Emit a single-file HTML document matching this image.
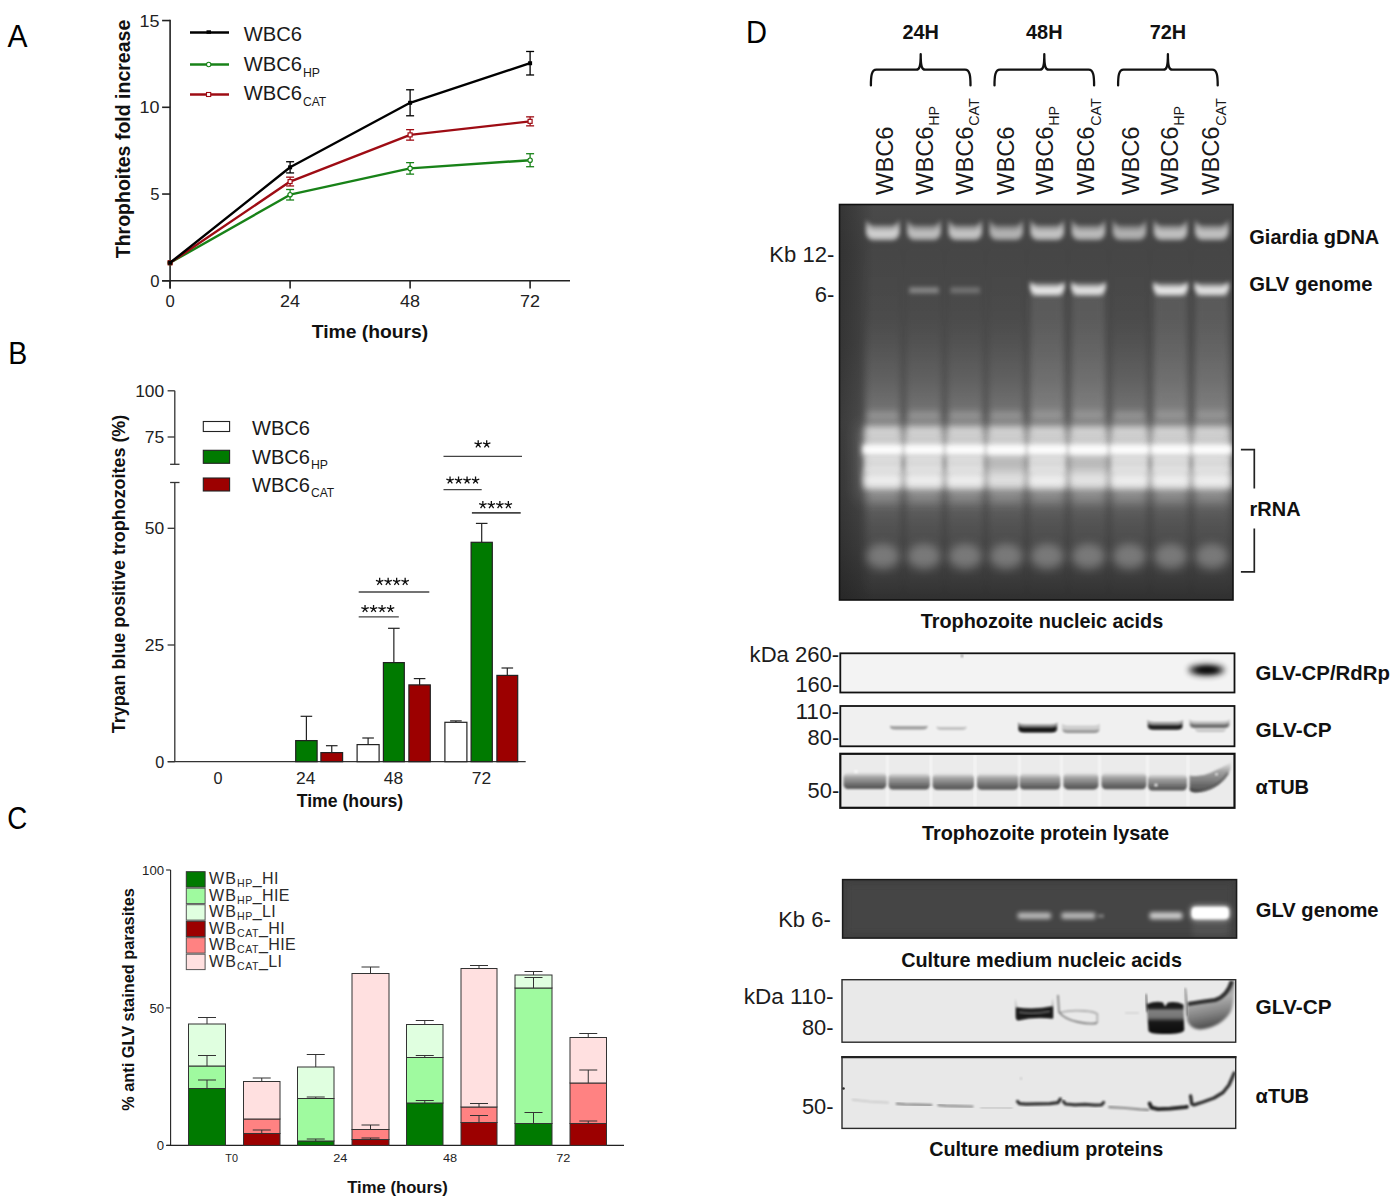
<!DOCTYPE html>
<html><head><meta charset="utf-8"><title>Figure</title>
<style>
html,body{margin:0;padding:0;background:#fff;}
body{width:1400px;height:1204px;overflow:hidden;font-family:"Liberation Sans",sans-serif;}
svg{display:block;font-family:"Liberation Sans",sans-serif;}
</style></head><body>
<svg width="1400" height="1204" viewBox="0 0 1400 1204">
<rect width="1400" height="1204" fill="#fff"/>
<defs>
<filter id="b07" x="-2%" y="-2%" width="104%" height="104%"><feGaussianBlur stdDeviation="0.8"/></filter>
<filter id="b1" x="-20%" y="-50%" width="140%" height="200%"><feGaussianBlur stdDeviation="1"/></filter>
<filter id="b15" x="-20%" y="-80%" width="140%" height="260%"><feGaussianBlur stdDeviation="1.5"/></filter>
<filter id="b2" x="-20%" y="-80%" width="140%" height="260%"><feGaussianBlur stdDeviation="2.2"/></filter>
<filter id="b3" x="-30%" y="-80%" width="160%" height="260%"><feGaussianBlur stdDeviation="3.2"/></filter>
<filter id="b5" x="-40%" y="-100%" width="180%" height="300%"><feGaussianBlur stdDeviation="5"/></filter>
<filter id="b8" x="-50%" y="-100%" width="200%" height="300%"><feGaussianBlur stdDeviation="8"/></filter>
<filter id="bx" x="-30%" y="-10%" width="160%" height="120%"><feGaussianBlur stdDeviation="3 6"/></filter>
<linearGradient id="gelbg" x1="0" y1="0" x2="0" y2="1">
 <stop offset="0" stop-color="#4a4a4a"/><stop offset="0.12" stop-color="#454545"/><stop offset="0.35" stop-color="#484848"/>
 <stop offset="0.55" stop-color="#545454"/><stop offset="0.72" stop-color="#4e4e4e"/><stop offset="0.88" stop-color="#404040"/><stop offset="1" stop-color="#303030"/>
</linearGradient>
<linearGradient id="smear" x1="0" y1="0" x2="0" y2="1">
 <stop offset="0" stop-color="#fff" stop-opacity="0"/><stop offset="0.22" stop-color="#fff" stop-opacity="0.02"/>
 <stop offset="0.4" stop-color="#fff" stop-opacity="0.11"/><stop offset="0.5" stop-color="#fff" stop-opacity="0.2"/><stop offset="0.62" stop-color="#fff" stop-opacity="0.3"/>
 <stop offset="0.72" stop-color="#fff" stop-opacity="0.14"/><stop offset="0.8" stop-color="#fff" stop-opacity="0.07"/><stop offset="0.9" stop-color="#fff" stop-opacity="0.04"/>
 <stop offset="1" stop-color="#fff" stop-opacity="0"/>
</linearGradient>
<linearGradient id="lmar" x1="0" y1="0" x2="1" y2="0"><stop offset="0" stop-color="#1c1c1c" stop-opacity="0.45"/><stop offset="0.5" stop-color="#1c1c1c" stop-opacity="0.25"/><stop offset="1" stop-color="#1c1c1c" stop-opacity="0"/></linearGradient>
<linearGradient id="bandg" x1="0" y1="0" x2="0" y2="1"><stop offset="0" stop-color="#777" stop-opacity="0.05"/><stop offset="0.3" stop-color="#707070" stop-opacity="0.6"/><stop offset="0.75" stop-color="#5a5a5a" stop-opacity="0.9"/><stop offset="1" stop-color="#484848" stop-opacity="0.95"/></linearGradient>
<linearGradient id="l8g" x1="0" y1="0" x2="0" y2="1"><stop offset="0" stop-color="#000" stop-opacity="0.9"/><stop offset="0.34" stop-color="#000" stop-opacity="0.88"/><stop offset="0.42" stop-color="#000" stop-opacity="0.45"/><stop offset="0.58" stop-color="#000" stop-opacity="0.5"/><stop offset="0.7" stop-color="#000" stop-opacity="0.9"/><stop offset="1" stop-color="#000" stop-opacity="0.95"/></linearGradient>
<linearGradient id="l9g" x1="0.3" y1="0" x2="0.5" y2="1"><stop offset="0" stop-color="#000" stop-opacity="0.5"/><stop offset="0.4" stop-color="#000" stop-opacity="0.25"/><stop offset="0.7" stop-color="#000" stop-opacity="0.45"/><stop offset="1" stop-color="#000" stop-opacity="0.7"/></linearGradient>
<clipPath id="cgel"><rect x="839.5" y="204.5" width="393.5" height="395.5"/></clipPath>
<clipPath id="cgel2"><rect x="842.6" y="879.6" width="394" height="58.5"/></clipPath>
<clipPath id="cb1"><rect x="840.5" y="653.5" width="394" height="39"/></clipPath>
<clipPath id="cb2"><rect x="840.5" y="706" width="394" height="40"/></clipPath>
<clipPath id="cb3"><rect x="840.5" y="753.4" width="394" height="54"/></clipPath>
<clipPath id="cb4"><rect x="842" y="979.7" width="393.7" height="62.5"/></clipPath>
<clipPath id="cb5"><rect x="842" y="1056.8" width="393.7" height="71.6"/></clipPath>
</defs>
<text x="920.7" y="38.8" font-size="19.5" text-anchor="middle" font-weight="bold" fill="#111" textLength="36.5" lengthAdjust="spacingAndGlyphs" >24H</text>
<path d="M870.9,85.4 C870.9,76 871.5,69.7 876.4,69.7 L916.2,69.7 C919.5,69.7 920.7,66.5 920.7,54.2 C920.7,66.5 921.9,69.7 925.2,69.7 L965.0,69.7 C969.9,69.7 970.5,76 970.5,85.4" fill="none" stroke="#111" stroke-width="2.3" stroke-linecap="round" stroke-linejoin="round"/>
<text x="1044.3" y="38.8" font-size="19.5" text-anchor="middle" font-weight="bold" fill="#111" textLength="36.5" lengthAdjust="spacingAndGlyphs" >48H</text>
<path d="M994.5,85.4 C994.5,76 995.1,69.7 1000.0,69.7 L1039.8,69.7 C1043.1,69.7 1044.3,66.5 1044.3,54.2 C1044.3,66.5 1045.5,69.7 1048.8,69.7 L1088.6,69.7 C1093.5,69.7 1094.1,76 1094.1,85.4" fill="none" stroke="#111" stroke-width="2.3" stroke-linecap="round" stroke-linejoin="round"/>
<text x="1167.9" y="38.8" font-size="19.5" text-anchor="middle" font-weight="bold" fill="#111" textLength="36.5" lengthAdjust="spacingAndGlyphs" >72H</text>
<path d="M1118.1,85.4 C1118.1,76 1118.7,69.7 1123.6,69.7 L1163.4,69.7 C1166.7,69.7 1167.9,66.5 1167.9,54.2 C1167.9,66.5 1169.1,69.7 1172.4,69.7 L1212.2,69.7 C1217.1,69.7 1217.7,76 1217.7,85.4" fill="none" stroke="#111" stroke-width="2.3" stroke-linecap="round" stroke-linejoin="round"/>
<text transform="translate(893,195) rotate(-90)" font-size="24.2" fill="#1a1a1a"><tspan textLength="68.5" lengthAdjust="spacingAndGlyphs">WBC6</tspan></text>
<text transform="translate(932.5,195) rotate(-90)" font-size="24.2" fill="#1a1a1a"><tspan textLength="68.5" lengthAdjust="spacingAndGlyphs">WBC6</tspan><tspan font-size="14.3" dy="6.3" dx="0.8">HP</tspan></text>
<text transform="translate(972.5,195) rotate(-90)" font-size="24.2" fill="#1a1a1a"><tspan textLength="68.5" lengthAdjust="spacingAndGlyphs">WBC6</tspan><tspan font-size="14.3" dy="6.3" dx="0.8">CAT</tspan></text>
<text transform="translate(1013.6,195) rotate(-90)" font-size="24.2" fill="#1a1a1a"><tspan textLength="68.5" lengthAdjust="spacingAndGlyphs">WBC6</tspan></text>
<text transform="translate(1053,195) rotate(-90)" font-size="24.2" fill="#1a1a1a"><tspan textLength="68.5" lengthAdjust="spacingAndGlyphs">WBC6</tspan><tspan font-size="14.3" dy="6.3" dx="0.8">HP</tspan></text>
<text transform="translate(1094.2,195) rotate(-90)" font-size="24.2" fill="#1a1a1a"><tspan textLength="68.5" lengthAdjust="spacingAndGlyphs">WBC6</tspan><tspan font-size="14.3" dy="6.3" dx="0.8">CAT</tspan></text>
<text transform="translate(1138.6,195) rotate(-90)" font-size="24.2" fill="#1a1a1a"><tspan textLength="68.5" lengthAdjust="spacingAndGlyphs">WBC6</tspan></text>
<text transform="translate(1178,195) rotate(-90)" font-size="24.2" fill="#1a1a1a"><tspan textLength="68.5" lengthAdjust="spacingAndGlyphs">WBC6</tspan><tspan font-size="14.3" dy="6.3" dx="0.8">HP</tspan></text>
<text transform="translate(1219.3,195) rotate(-90)" font-size="24.2" fill="#1a1a1a"><tspan textLength="68.5" lengthAdjust="spacingAndGlyphs">WBC6</tspan><tspan font-size="14.3" dy="6.3" dx="0.8">CAT</tspan></text>
<rect x="839.50" y="204.50" width="393.50" height="395.50" fill="url(#gelbg)" stroke="none" stroke-width="1" />
<g clip-path="url(#cgel)"><g>
<rect x="839.50" y="204.50" width="34.00" height="395.50" fill="url(#lmar)" stroke="none" stroke-width="1" />
<rect x="857.50" y="425.00" width="375.50" height="75.00" fill="#fff" stroke="none" stroke-width="1" opacity="0.14" filter="url(#b8)"/>
<rect x="864.00" y="430.00" width="367.00" height="56.00" fill="#fff" stroke="none" stroke-width="1" opacity="0.3" filter="url(#b5)"/>
<rect x="862.00" y="445.00" width="370.00" height="9.00" fill="#fff" stroke="none" stroke-width="1" opacity="0.4" filter="url(#b3)"/>
<rect x="865.05" y="238.00" width="35.50" height="357.00" fill="url(#smear)" stroke="none" stroke-width="1" filter="url(#b3)"/>
<path d="M866.0,219.5 Q869.0,225.5 875.0,225.5 L890.5,225.5 Q896.5,225.5 899.5,219.5 L899.5,234 Q897.5,240.5 892.5,240.5 L873.0,240.5 Q868.0,240.5 866.0,234 Z" fill="#fff" opacity="0.48" filter="url(#b2)"/>
<path d="M867.0,224 Q869.0,230 875.0,230 L890.5,230 Q896.5,230 898.5,224 L898.5,233 Q896.5,238 891.5,238 L874.0,238 Q869.0,238 867.0,233 Z" fill="#fff" opacity="0.50" filter="url(#b2)"/>
<rect x="867.05" y="411.00" width="31.50" height="9.00" fill="#fff" stroke="none" stroke-width="1" opacity="0.2" filter="url(#b3)"/>
<rect x="865.05" y="426.00" width="35.50" height="11.00" fill="#fff" stroke="none" stroke-width="1" opacity="0.5" filter="url(#b3)"/>
<rect x="865.05" y="436.00" width="35.50" height="9.00" fill="#fff" stroke="none" stroke-width="1" opacity="0.22" filter="url(#b2)"/>
<rect x="863.55" y="443.50" width="38.50" height="12.00" fill="#fff" stroke="none" stroke-width="1" opacity="0.6" filter="url(#b3)"/>
<rect x="864.05" y="446.00" width="37.50" height="7.50" fill="#fff" stroke="none" stroke-width="1" opacity="0.9" filter="url(#b2)"/>
<rect x="864.55" y="456.00" width="36.50" height="16.00" fill="#fff" stroke="none" stroke-width="1" opacity="0.50" filter="url(#b2)"/>
<rect x="864.05" y="469.00" width="37.50" height="20.00" fill="#fff" stroke="none" stroke-width="1" opacity="0.50" filter="url(#b3)"/>
<rect x="864.55" y="475.00" width="36.50" height="11.50" fill="#fff" stroke="none" stroke-width="1" opacity="0.60" filter="url(#b3)"/>
<rect x="867.05" y="487.00" width="31.50" height="16.00" fill="#fff" stroke="none" stroke-width="1" opacity="0.16" filter="url(#b5)"/>
<ellipse cx="882.8" cy="556.5" rx="16.5" ry="12.5" fill="#fff" opacity="0.27" filter="url(#b5)"/>
<rect x="906.25" y="238.00" width="35.50" height="357.00" fill="url(#smear)" stroke="none" stroke-width="1" filter="url(#b3)"/>
<path d="M907.2,219.5 Q910.2,225.5 916.2,225.5 L931.8,225.5 Q937.8,225.5 940.8,219.5 L940.8,234 Q938.8,240.5 933.8,240.5 L914.2,240.5 Q909.2,240.5 907.2,234 Z" fill="#fff" opacity="0.39" filter="url(#b2)"/>
<path d="M908.2,224 Q910.2,230 916.2,230 L931.8,230 Q937.8,230 939.8,224 L939.8,233 Q937.8,238 932.8,238 L915.2,238 Q910.2,238 908.2,233 Z" fill="#fff" opacity="0.41" filter="url(#b2)"/>
<rect x="909.25" y="287.30" width="29.50" height="6.00" fill="#fff" stroke="none" stroke-width="1" opacity="0.34" filter="url(#b2)"/>
<rect x="908.25" y="411.00" width="31.50" height="9.00" fill="#fff" stroke="none" stroke-width="1" opacity="0.2" filter="url(#b3)"/>
<rect x="906.25" y="426.00" width="35.50" height="11.00" fill="#fff" stroke="none" stroke-width="1" opacity="0.5" filter="url(#b3)"/>
<rect x="906.25" y="436.00" width="35.50" height="9.00" fill="#fff" stroke="none" stroke-width="1" opacity="0.22" filter="url(#b2)"/>
<rect x="904.75" y="443.50" width="38.50" height="12.00" fill="#fff" stroke="none" stroke-width="1" opacity="0.6" filter="url(#b3)"/>
<rect x="905.25" y="446.00" width="37.50" height="7.50" fill="#fff" stroke="none" stroke-width="1" opacity="0.9" filter="url(#b2)"/>
<rect x="905.75" y="456.00" width="36.50" height="16.00" fill="#fff" stroke="none" stroke-width="1" opacity="0.50" filter="url(#b2)"/>
<rect x="905.25" y="469.00" width="37.50" height="20.00" fill="#fff" stroke="none" stroke-width="1" opacity="0.50" filter="url(#b3)"/>
<rect x="905.75" y="475.00" width="36.50" height="11.50" fill="#fff" stroke="none" stroke-width="1" opacity="0.60" filter="url(#b3)"/>
<rect x="908.25" y="487.00" width="31.50" height="16.00" fill="#fff" stroke="none" stroke-width="1" opacity="0.16" filter="url(#b5)"/>
<ellipse cx="924.0" cy="556.5" rx="16.5" ry="12.5" fill="#fff" opacity="0.27" filter="url(#b5)"/>
<rect x="947.45" y="238.00" width="35.50" height="357.00" fill="url(#smear)" stroke="none" stroke-width="1" filter="url(#b3)"/>
<path d="M948.5,219.5 Q951.5,225.5 957.5,225.5 L973.0,225.5 Q979.0,225.5 982.0,219.5 L982.0,234 Q980.0,240.5 975.0,240.5 L955.5,240.5 Q950.5,240.5 948.5,234 Z" fill="#fff" opacity="0.42" filter="url(#b2)"/>
<path d="M949.5,224 Q951.5,230 957.5,230 L973.0,230 Q979.0,230 981.0,224 L981.0,233 Q979.0,238 974.0,238 L956.5,238 Q951.5,238 949.5,233 Z" fill="#fff" opacity="0.44" filter="url(#b2)"/>
<rect x="950.45" y="287.30" width="29.50" height="6.00" fill="#fff" stroke="none" stroke-width="1" opacity="0.23" filter="url(#b2)"/>
<rect x="949.45" y="411.00" width="31.50" height="9.00" fill="#fff" stroke="none" stroke-width="1" opacity="0.2" filter="url(#b3)"/>
<rect x="947.45" y="426.00" width="35.50" height="11.00" fill="#fff" stroke="none" stroke-width="1" opacity="0.5" filter="url(#b3)"/>
<rect x="947.45" y="436.00" width="35.50" height="9.00" fill="#fff" stroke="none" stroke-width="1" opacity="0.22" filter="url(#b2)"/>
<rect x="945.95" y="443.50" width="38.50" height="12.00" fill="#fff" stroke="none" stroke-width="1" opacity="0.6" filter="url(#b3)"/>
<rect x="946.45" y="446.00" width="37.50" height="7.50" fill="#fff" stroke="none" stroke-width="1" opacity="0.9" filter="url(#b2)"/>
<rect x="946.95" y="456.00" width="36.50" height="16.00" fill="#fff" stroke="none" stroke-width="1" opacity="0.50" filter="url(#b2)"/>
<rect x="946.45" y="469.00" width="37.50" height="20.00" fill="#fff" stroke="none" stroke-width="1" opacity="0.50" filter="url(#b3)"/>
<rect x="946.95" y="475.00" width="36.50" height="11.50" fill="#fff" stroke="none" stroke-width="1" opacity="0.60" filter="url(#b3)"/>
<rect x="949.45" y="487.00" width="31.50" height="16.00" fill="#fff" stroke="none" stroke-width="1" opacity="0.16" filter="url(#b5)"/>
<ellipse cx="965.2" cy="556.5" rx="16.5" ry="12.5" fill="#fff" opacity="0.27" filter="url(#b5)"/>
<rect x="988.45" y="238.00" width="35.50" height="357.00" fill="url(#smear)" stroke="none" stroke-width="1" filter="url(#b3)"/>
<path d="M989.5,219.5 Q992.5,225.5 998.5,225.5 L1014.0,225.5 Q1020.0,225.5 1023.0,219.5 L1023.0,234 Q1021.0,240.5 1016.0,240.5 L996.5,240.5 Q991.5,240.5 989.5,234 Z" fill="#fff" opacity="0.35" filter="url(#b2)"/>
<path d="M990.5,224 Q992.5,230 998.5,230 L1014.0,230 Q1020.0,230 1022.0,224 L1022.0,233 Q1020.0,238 1015.0,238 L997.5,238 Q992.5,238 990.5,233 Z" fill="#fff" opacity="0.36" filter="url(#b2)"/>
<rect x="990.45" y="411.00" width="31.50" height="9.00" fill="#fff" stroke="none" stroke-width="1" opacity="0.2" filter="url(#b3)"/>
<rect x="988.45" y="426.00" width="35.50" height="11.00" fill="#fff" stroke="none" stroke-width="1" opacity="0.5" filter="url(#b3)"/>
<rect x="988.45" y="436.00" width="35.50" height="9.00" fill="#fff" stroke="none" stroke-width="1" opacity="0.22" filter="url(#b2)"/>
<rect x="986.95" y="443.50" width="38.50" height="12.00" fill="#fff" stroke="none" stroke-width="1" opacity="0.6" filter="url(#b3)"/>
<rect x="987.45" y="446.00" width="37.50" height="7.50" fill="#fff" stroke="none" stroke-width="1" opacity="0.9" filter="url(#b2)"/>
<rect x="987.95" y="456.00" width="36.50" height="16.00" fill="#fff" stroke="none" stroke-width="1" opacity="0.08" filter="url(#b2)"/>
<rect x="987.45" y="469.00" width="37.50" height="20.00" fill="#fff" stroke="none" stroke-width="1" opacity="0.36" filter="url(#b3)"/>
<rect x="987.95" y="475.00" width="36.50" height="11.50" fill="#fff" stroke="none" stroke-width="1" opacity="0.43" filter="url(#b3)"/>
<rect x="990.45" y="487.00" width="31.50" height="16.00" fill="#fff" stroke="none" stroke-width="1" opacity="0.16" filter="url(#b5)"/>
<ellipse cx="1006.2" cy="556.5" rx="16.5" ry="12.5" fill="#fff" opacity="0.27" filter="url(#b5)"/>
<rect x="1029.45" y="238.00" width="35.50" height="357.00" fill="url(#smear)" stroke="none" stroke-width="1" filter="url(#b3)"/>
<rect x="1030.45" y="294.00" width="33.50" height="120.00" fill="#fff" stroke="none" stroke-width="1" opacity="0.09" filter="url(#b3)"/>
<path d="M1030.5,219.5 Q1033.5,225.5 1039.5,225.5 L1055.0,225.5 Q1061.0,225.5 1064.0,219.5 L1064.0,234 Q1062.0,240.5 1057.0,240.5 L1037.5,240.5 Q1032.5,240.5 1030.5,234 Z" fill="#fff" opacity="0.42" filter="url(#b2)"/>
<path d="M1031.5,224 Q1033.5,230 1039.5,230 L1055.0,230 Q1061.0,230 1063.0,224 L1063.0,233 Q1061.0,238 1056.0,238 L1038.5,238 Q1033.5,238 1031.5,233 Z" fill="#fff" opacity="0.44" filter="url(#b2)"/>
<path d="M1030.0,280.5 Q1032.5,286.5 1038.5,286.5 L1056.0,286.5 Q1062.0,286.5 1064.5,280.5 L1064.5,289 Q1062.0,294.5 1057.0,294.5 L1037.5,294.5 Q1032.5,294.5 1030.0,289 Z" fill="#fff" opacity="0.78" filter="url(#b2)"/>
<rect x="1031.45" y="283.00" width="31.50" height="13.00" fill="#fff" stroke="none" stroke-width="1" opacity="0.35" filter="url(#b2)"/>
<rect x="1031.45" y="411.00" width="31.50" height="9.00" fill="#fff" stroke="none" stroke-width="1" opacity="0.2" filter="url(#b3)"/>
<rect x="1029.45" y="426.00" width="35.50" height="11.00" fill="#fff" stroke="none" stroke-width="1" opacity="0.5" filter="url(#b3)"/>
<rect x="1029.45" y="436.00" width="35.50" height="9.00" fill="#fff" stroke="none" stroke-width="1" opacity="0.22" filter="url(#b2)"/>
<rect x="1027.95" y="443.50" width="38.50" height="12.00" fill="#fff" stroke="none" stroke-width="1" opacity="0.6" filter="url(#b3)"/>
<rect x="1028.45" y="446.00" width="37.50" height="7.50" fill="#fff" stroke="none" stroke-width="1" opacity="0.9" filter="url(#b2)"/>
<rect x="1028.95" y="456.00" width="36.50" height="16.00" fill="#fff" stroke="none" stroke-width="1" opacity="0.50" filter="url(#b2)"/>
<rect x="1028.45" y="469.00" width="37.50" height="20.00" fill="#fff" stroke="none" stroke-width="1" opacity="0.50" filter="url(#b3)"/>
<rect x="1028.95" y="475.00" width="36.50" height="11.50" fill="#fff" stroke="none" stroke-width="1" opacity="0.60" filter="url(#b3)"/>
<rect x="1031.45" y="487.00" width="31.50" height="16.00" fill="#fff" stroke="none" stroke-width="1" opacity="0.16" filter="url(#b5)"/>
<ellipse cx="1047.2" cy="556.5" rx="16.5" ry="12.5" fill="#fff" opacity="0.27" filter="url(#b5)"/>
<rect x="1070.65" y="238.00" width="35.50" height="357.00" fill="url(#smear)" stroke="none" stroke-width="1" filter="url(#b3)"/>
<rect x="1071.65" y="294.00" width="33.50" height="120.00" fill="#fff" stroke="none" stroke-width="1" opacity="0.09" filter="url(#b3)"/>
<path d="M1071.7,219.5 Q1074.7,225.5 1080.7,225.5 L1096.2,225.5 Q1102.2,225.5 1105.2,219.5 L1105.2,234 Q1103.2,240.5 1098.2,240.5 L1078.7,240.5 Q1073.7,240.5 1071.7,234 Z" fill="#fff" opacity="0.38" filter="url(#b2)"/>
<path d="M1072.7,224 Q1074.7,230 1080.7,230 L1096.2,230 Q1102.2,230 1104.2,224 L1104.2,233 Q1102.2,238 1097.2,238 L1079.7,238 Q1074.7,238 1072.7,233 Z" fill="#fff" opacity="0.40" filter="url(#b2)"/>
<path d="M1071.2,280.5 Q1073.7,286.5 1079.7,286.5 L1097.2,286.5 Q1103.2,286.5 1105.7,280.5 L1105.7,289 Q1103.2,294.5 1098.2,294.5 L1078.7,294.5 Q1073.7,294.5 1071.2,289 Z" fill="#fff" opacity="0.74" filter="url(#b2)"/>
<rect x="1072.65" y="283.00" width="31.50" height="13.00" fill="#fff" stroke="none" stroke-width="1" opacity="0.33" filter="url(#b2)"/>
<rect x="1072.65" y="411.00" width="31.50" height="9.00" fill="#fff" stroke="none" stroke-width="1" opacity="0.2" filter="url(#b3)"/>
<rect x="1070.65" y="426.00" width="35.50" height="11.00" fill="#fff" stroke="none" stroke-width="1" opacity="0.5" filter="url(#b3)"/>
<rect x="1070.65" y="436.00" width="35.50" height="9.00" fill="#fff" stroke="none" stroke-width="1" opacity="0.22" filter="url(#b2)"/>
<rect x="1069.15" y="443.50" width="38.50" height="12.00" fill="#fff" stroke="none" stroke-width="1" opacity="0.6" filter="url(#b3)"/>
<rect x="1069.65" y="446.00" width="37.50" height="7.50" fill="#fff" stroke="none" stroke-width="1" opacity="0.9" filter="url(#b2)"/>
<rect x="1070.15" y="456.00" width="36.50" height="16.00" fill="#fff" stroke="none" stroke-width="1" opacity="0.08" filter="url(#b2)"/>
<rect x="1069.65" y="469.00" width="37.50" height="20.00" fill="#fff" stroke="none" stroke-width="1" opacity="0.39" filter="url(#b3)"/>
<rect x="1070.15" y="475.00" width="36.50" height="11.50" fill="#fff" stroke="none" stroke-width="1" opacity="0.47" filter="url(#b3)"/>
<rect x="1072.65" y="487.00" width="31.50" height="16.00" fill="#fff" stroke="none" stroke-width="1" opacity="0.16" filter="url(#b5)"/>
<ellipse cx="1088.4" cy="556.5" rx="16.5" ry="12.5" fill="#fff" opacity="0.27" filter="url(#b5)"/>
<rect x="1111.65" y="238.00" width="35.50" height="357.00" fill="url(#smear)" stroke="none" stroke-width="1" filter="url(#b3)"/>
<path d="M1112.7,219.5 Q1115.7,225.5 1121.7,225.5 L1137.2,225.5 Q1143.2,225.5 1146.2,219.5 L1146.2,234 Q1144.2,240.5 1139.2,240.5 L1119.7,240.5 Q1114.7,240.5 1112.7,234 Z" fill="#fff" opacity="0.34" filter="url(#b2)"/>
<path d="M1113.7,224 Q1115.7,230 1121.7,230 L1137.2,230 Q1143.2,230 1145.2,224 L1145.2,233 Q1143.2,238 1138.2,238 L1120.7,238 Q1115.7,238 1113.7,233 Z" fill="#fff" opacity="0.35" filter="url(#b2)"/>
<rect x="1113.65" y="411.00" width="31.50" height="9.00" fill="#fff" stroke="none" stroke-width="1" opacity="0.2" filter="url(#b3)"/>
<rect x="1111.65" y="426.00" width="35.50" height="11.00" fill="#fff" stroke="none" stroke-width="1" opacity="0.5" filter="url(#b3)"/>
<rect x="1111.65" y="436.00" width="35.50" height="9.00" fill="#fff" stroke="none" stroke-width="1" opacity="0.22" filter="url(#b2)"/>
<rect x="1110.15" y="443.50" width="38.50" height="12.00" fill="#fff" stroke="none" stroke-width="1" opacity="0.6" filter="url(#b3)"/>
<rect x="1110.65" y="446.00" width="37.50" height="7.50" fill="#fff" stroke="none" stroke-width="1" opacity="0.9" filter="url(#b2)"/>
<rect x="1111.15" y="456.00" width="36.50" height="16.00" fill="#fff" stroke="none" stroke-width="1" opacity="0.50" filter="url(#b2)"/>
<rect x="1110.65" y="469.00" width="37.50" height="20.00" fill="#fff" stroke="none" stroke-width="1" opacity="0.50" filter="url(#b3)"/>
<rect x="1111.15" y="475.00" width="36.50" height="11.50" fill="#fff" stroke="none" stroke-width="1" opacity="0.60" filter="url(#b3)"/>
<rect x="1113.65" y="487.00" width="31.50" height="16.00" fill="#fff" stroke="none" stroke-width="1" opacity="0.16" filter="url(#b5)"/>
<ellipse cx="1129.4" cy="556.5" rx="16.5" ry="12.5" fill="#fff" opacity="0.27" filter="url(#b5)"/>
<rect x="1152.85" y="238.00" width="35.50" height="357.00" fill="url(#smear)" stroke="none" stroke-width="1" filter="url(#b3)"/>
<rect x="1153.85" y="294.00" width="33.50" height="120.00" fill="#fff" stroke="none" stroke-width="1" opacity="0.09" filter="url(#b3)"/>
<path d="M1153.8,219.5 Q1156.8,225.5 1162.8,225.5 L1178.3,225.5 Q1184.3,225.5 1187.3,219.5 L1187.3,234 Q1185.3,240.5 1180.3,240.5 L1160.8,240.5 Q1155.8,240.5 1153.8,234 Z" fill="#fff" opacity="0.41" filter="url(#b2)"/>
<path d="M1154.8,224 Q1156.8,230 1162.8,230 L1178.3,230 Q1184.3,230 1186.3,224 L1186.3,233 Q1184.3,238 1179.3,238 L1161.8,238 Q1156.8,238 1154.8,233 Z" fill="#fff" opacity="0.42" filter="url(#b2)"/>
<path d="M1153.3,280.5 Q1155.8,286.5 1161.8,286.5 L1179.3,286.5 Q1185.3,286.5 1187.8,280.5 L1187.8,289 Q1185.3,294.5 1180.3,294.5 L1160.8,294.5 Q1155.8,294.5 1153.3,289 Z" fill="#fff" opacity="0.78" filter="url(#b2)"/>
<rect x="1154.85" y="283.00" width="31.50" height="13.00" fill="#fff" stroke="none" stroke-width="1" opacity="0.35" filter="url(#b2)"/>
<rect x="1154.85" y="411.00" width="31.50" height="9.00" fill="#fff" stroke="none" stroke-width="1" opacity="0.2" filter="url(#b3)"/>
<rect x="1152.85" y="426.00" width="35.50" height="11.00" fill="#fff" stroke="none" stroke-width="1" opacity="0.5" filter="url(#b3)"/>
<rect x="1152.85" y="436.00" width="35.50" height="9.00" fill="#fff" stroke="none" stroke-width="1" opacity="0.22" filter="url(#b2)"/>
<rect x="1151.35" y="443.50" width="38.50" height="12.00" fill="#fff" stroke="none" stroke-width="1" opacity="0.6" filter="url(#b3)"/>
<rect x="1151.85" y="446.00" width="37.50" height="7.50" fill="#fff" stroke="none" stroke-width="1" opacity="0.9" filter="url(#b2)"/>
<rect x="1152.35" y="456.00" width="36.50" height="16.00" fill="#fff" stroke="none" stroke-width="1" opacity="0.50" filter="url(#b2)"/>
<rect x="1151.85" y="469.00" width="37.50" height="20.00" fill="#fff" stroke="none" stroke-width="1" opacity="0.50" filter="url(#b3)"/>
<rect x="1152.35" y="475.00" width="36.50" height="11.50" fill="#fff" stroke="none" stroke-width="1" opacity="0.60" filter="url(#b3)"/>
<rect x="1154.85" y="487.00" width="31.50" height="16.00" fill="#fff" stroke="none" stroke-width="1" opacity="0.16" filter="url(#b5)"/>
<ellipse cx="1170.6" cy="556.5" rx="16.5" ry="12.5" fill="#fff" opacity="0.27" filter="url(#b5)"/>
<rect x="1194.05" y="238.00" width="35.50" height="357.00" fill="url(#smear)" stroke="none" stroke-width="1" filter="url(#b3)"/>
<rect x="1195.05" y="294.00" width="33.50" height="120.00" fill="#fff" stroke="none" stroke-width="1" opacity="0.09" filter="url(#b3)"/>
<path d="M1195.0,219.5 Q1198.0,225.5 1204.0,225.5 L1219.5,225.5 Q1225.5,225.5 1228.5,219.5 L1228.5,234 Q1226.5,240.5 1221.5,240.5 L1202.0,240.5 Q1197.0,240.5 1195.0,234 Z" fill="#fff" opacity="0.41" filter="url(#b2)"/>
<path d="M1196.0,224 Q1198.0,230 1204.0,230 L1219.5,230 Q1225.5,230 1227.5,224 L1227.5,233 Q1225.5,238 1220.5,238 L1203.0,238 Q1198.0,238 1196.0,233 Z" fill="#fff" opacity="0.42" filter="url(#b2)"/>
<path d="M1194.5,280.5 Q1197.0,286.5 1203.0,286.5 L1220.5,286.5 Q1226.5,286.5 1229.0,280.5 L1229.0,289 Q1226.5,294.5 1221.5,294.5 L1202.0,294.5 Q1197.0,294.5 1194.5,289 Z" fill="#fff" opacity="0.74" filter="url(#b2)"/>
<rect x="1196.05" y="283.00" width="31.50" height="13.00" fill="#fff" stroke="none" stroke-width="1" opacity="0.33" filter="url(#b2)"/>
<rect x="1196.05" y="411.00" width="31.50" height="9.00" fill="#fff" stroke="none" stroke-width="1" opacity="0.2" filter="url(#b3)"/>
<rect x="1194.05" y="426.00" width="35.50" height="11.00" fill="#fff" stroke="none" stroke-width="1" opacity="0.5" filter="url(#b3)"/>
<rect x="1194.05" y="436.00" width="35.50" height="9.00" fill="#fff" stroke="none" stroke-width="1" opacity="0.22" filter="url(#b2)"/>
<rect x="1192.55" y="443.50" width="38.50" height="12.00" fill="#fff" stroke="none" stroke-width="1" opacity="0.6" filter="url(#b3)"/>
<rect x="1193.05" y="446.00" width="37.50" height="7.50" fill="#fff" stroke="none" stroke-width="1" opacity="0.9" filter="url(#b2)"/>
<rect x="1193.55" y="456.00" width="36.50" height="16.00" fill="#fff" stroke="none" stroke-width="1" opacity="0.50" filter="url(#b2)"/>
<rect x="1193.05" y="469.00" width="37.50" height="20.00" fill="#fff" stroke="none" stroke-width="1" opacity="0.50" filter="url(#b3)"/>
<rect x="1193.55" y="475.00" width="36.50" height="11.50" fill="#fff" stroke="none" stroke-width="1" opacity="0.60" filter="url(#b3)"/>
<rect x="1196.05" y="487.00" width="31.50" height="16.00" fill="#fff" stroke="none" stroke-width="1" opacity="0.16" filter="url(#b5)"/>
<ellipse cx="1211.8" cy="556.5" rx="16.5" ry="12.5" fill="#fff" opacity="0.27" filter="url(#b5)"/>
</g></g>
<rect x="839.50" y="204.50" width="393.50" height="395.50" fill="none" stroke="#111" stroke-width="1.6" />
<text x="1249.3" y="243.6" font-size="19.8" text-anchor="start" font-weight="bold" fill="#111" textLength="130" lengthAdjust="spacingAndGlyphs" >Giardia gDNA</text>
<text x="1249.3" y="291.3" font-size="19.8" text-anchor="start" font-weight="bold" fill="#111" textLength="123.2" lengthAdjust="spacingAndGlyphs" >GLV genome</text>
<text x="1249.6" y="516.3" font-size="19.8" text-anchor="start" font-weight="bold" fill="#111" textLength="51" lengthAdjust="spacingAndGlyphs" >rRNA</text>
<text x="834.3" y="262.1" font-size="21.4" text-anchor="end" font-weight="normal" fill="#1c1c1c" textLength="65" lengthAdjust="spacingAndGlyphs" >Kb 12-</text>
<text x="834.3" y="302.4" font-size="21.4" text-anchor="end" font-weight="normal" fill="#1c1c1c" textLength="19.6" lengthAdjust="spacingAndGlyphs" >6-</text>
<path d="M1240.9,449.7 L1254.3,449.7 L1254.3,488.6" fill="none" stroke="#222" stroke-width="1.7"/>
<path d="M1254.3,528.6 L1254.3,571.8 L1240.9,571.8" fill="none" stroke="#222" stroke-width="1.7"/>
<text x="1042" y="627.9" font-size="19.8" text-anchor="middle" font-weight="bold" fill="#111" textLength="242.6" lengthAdjust="spacingAndGlyphs" >Trophozoite nucleic acids</text>
<text x="1045.5" y="839.6" font-size="19.8" text-anchor="middle" font-weight="bold" fill="#111" textLength="247" lengthAdjust="spacingAndGlyphs" >Trophozoite protein lysate</text>
<text x="1041.6" y="967.2" font-size="19.8" text-anchor="middle" font-weight="bold" fill="#111" textLength="280.8" lengthAdjust="spacingAndGlyphs" >Culture medium nucleic acids</text>
<text x="1046.2" y="1156.1" font-size="19.8" text-anchor="middle" font-weight="bold" fill="#111" textLength="234" lengthAdjust="spacingAndGlyphs" >Culture medium proteins</text>
<rect x="840.30" y="653.30" width="394.20" height="39.20" fill="#f3f3f3" stroke="none" stroke-width="1" />
<g clip-path="url(#cb1)">
<ellipse cx="1206.5" cy="670" rx="18" ry="5.5" fill="#000" opacity="0.85" filter="url(#b3)"/>
<ellipse cx="1207" cy="670" rx="11" ry="3" fill="#000" opacity="0.85" filter="url(#b2)"/>
<circle cx="962" cy="656" r="1.2" fill="#777" filter="url(#b1)"/>
</g>
<rect x="840.30" y="653.30" width="394.20" height="39.20" fill="none" stroke="#111" stroke-width="1.8" />
<rect x="840.30" y="706.00" width="394.20" height="40.30" fill="#f0f0f0" stroke="none" stroke-width="1" />
<g clip-path="url(#cb2)">
<path d="M890.0,725.8 Q891.5,726.3 897.0,726.3 L920.5,726.3 Q926.0,726.3 927.5,725.8 L927.5,727.1 Q926.5,729.6 922.5,729.6 L895.0,729.6 Q891.0,729.6 890.0,727.1 Z" fill="#000" opacity="0.36" filter="url(#b1)"/>
<path d="M936.5,726.5 Q938.0,727.0 943.5,727.0 L959.5,727.0 Q965.0,727.0 966.5,726.5 L966.5,727.5 Q965.5,730.0 961.5,730.0 L941.5,730.0 Q937.5,730.0 936.5,727.5 Z" fill="#000" opacity="0.2" filter="url(#b1)"/>
<path d="M1018.0,722.3 Q1019.5,724.5 1025.0,724.5 L1050.4,724.5 Q1055.9,724.5 1057.4,722.3 L1057.4,729.9 Q1056.4,732.4 1052.4,732.4 L1023.0,732.4 Q1019.0,732.4 1018.0,729.9 Z" fill="#000" opacity="0.42" filter="url(#b1)"/>
<path d="M1019.0,726.1 Q1020.5,727.6 1026.0,727.6 L1049.4,727.6 Q1054.9,727.6 1056.4,726.1 L1056.4,729.7 Q1055.4,732.2 1051.4,732.2 L1024.0,732.2 Q1020.0,732.2 1019.0,729.7 Z" fill="#000" opacity="0.85" filter="url(#b1)"/>
<path d="M1062.0,723.5 Q1063.5,725.5 1069.0,725.5 L1092.8,725.5 Q1098.3,725.5 1099.8,723.5 L1099.8,730.5 Q1098.8,733.0 1094.8,733.0 L1067.0,733.0 Q1063.0,733.0 1062.0,730.5 Z" fill="#000" opacity="0.14" filter="url(#b1)"/>
<path d="M1063.0,729.2 Q1064.5,730.2 1070.0,730.2 L1091.8,730.2 Q1097.3,730.2 1098.8,729.2 L1098.8,730.5 Q1097.8,733.0 1093.8,733.0 L1068.0,733.0 Q1064.0,733.0 1063.0,730.5 Z" fill="#000" opacity="0.28" filter="url(#b1)"/>
<path d="M1147.4,719.8 Q1148.9,722.0 1154.4,722.0 L1176.0,722.0 Q1181.5,722.0 1183.0,719.8 L1183.0,727.3 Q1182.0,729.8 1178.0,729.8 L1152.4,729.8 Q1148.4,729.8 1147.4,727.3 Z" fill="#000" opacity="0.36" filter="url(#b1)"/>
<path d="M1148.4,723.8 Q1149.9,725.3 1155.4,725.3 L1175.0,725.3 Q1180.5,725.3 1182.0,723.8 L1182.0,727.1 Q1181.0,729.6 1177.0,729.6 L1153.4,729.6 Q1149.4,729.6 1148.4,727.1 Z" fill="#000" opacity="0.82" filter="url(#b1)"/>
<path d="M1189.4,719.3 Q1190.9,721.5 1196.4,721.5 L1222.7,721.5 Q1228.2,721.5 1229.7,719.3 L1229.7,725.7 Q1228.7,728.2 1224.7,728.2 L1194.4,728.2 Q1190.4,728.2 1189.4,725.7 Z" fill="#000" opacity="0.22" filter="url(#b1)"/>
<path d="M1190.4,723.1 Q1191.9,724.6 1197.4,724.6 L1221.7,724.6 Q1227.2,724.6 1228.7,723.1 L1228.7,725.3 Q1227.7,727.8 1223.7,727.8 L1195.4,727.8 Q1191.4,727.8 1190.4,725.3 Z" fill="#000" opacity="0.45" filter="url(#b1)"/>
<path d="M1195.0,729.0 Q1196.5,729.5 1202.0,729.5 L1219.0,729.5 Q1224.5,729.5 1226.0,729.0 L1226.0,729.5 Q1225.0,732.0 1221.0,732.0 L1200.0,732.0 Q1196.0,732.0 1195.0,729.5 Z" fill="#000" opacity="0.2" filter="url(#b1)"/>
</g>
<rect x="840.30" y="706.00" width="394.20" height="40.30" fill="none" stroke="#111" stroke-width="1.8" />
<rect x="840.30" y="753.80" width="394.20" height="54.00" fill="#ebebeb" stroke="none" stroke-width="1" />
<g clip-path="url(#cb3)">
<rect x="886.1" y="755" width="2.6" height="52" fill="#fff" opacity="0.55" filter="url(#b1)"/>
<rect x="843.5" y="772.6" width="42.9" height="16.4" rx="4.5" fill="url(#bandg)" filter="url(#b1)"/>
<rect x="929.6" y="755" width="2.6" height="52" fill="#fff" opacity="0.55" filter="url(#b1)"/>
<rect x="888.5" y="773.2" width="41.4" height="16.4" rx="4.5" fill="url(#bandg)" filter="url(#b1)"/>
<rect x="973.7" y="755" width="2.6" height="52" fill="#fff" opacity="0.55" filter="url(#b1)"/>
<rect x="932.6" y="773.4" width="41.4" height="16.4" rx="4.5" fill="url(#bandg)" filter="url(#b1)"/>
<rect x="1018.1" y="755" width="2.6" height="52" fill="#fff" opacity="0.55" filter="url(#b1)"/>
<rect x="977.0" y="773.4" width="41.4" height="16.4" rx="4.5" fill="url(#bandg)" filter="url(#b1)"/>
<rect x="1060.1" y="755" width="2.6" height="52" fill="#fff" opacity="0.55" filter="url(#b1)"/>
<rect x="1019.6" y="773.2" width="40.8" height="16.4" rx="4.5" fill="url(#bandg)" filter="url(#b1)"/>
<rect x="1098.2" y="755" width="2.6" height="52" fill="#fff" opacity="0.55" filter="url(#b1)"/>
<rect x="1063.4" y="773.0" width="35.1" height="16.4" rx="4.5" fill="url(#bandg)" filter="url(#b1)"/>
<rect x="1146.2" y="755" width="2.6" height="52" fill="#fff" opacity="0.55" filter="url(#b1)"/>
<rect x="1101.5" y="772.8" width="45.0" height="16.4" rx="4.5" fill="url(#bandg)" filter="url(#b1)"/>
<rect x="1186.7" y="755" width="2.6" height="52" fill="#fff" opacity="0.55" filter="url(#b1)"/>
<rect x="1148.0" y="774.2" width="39.0" height="16.4" rx="4.5" fill="url(#bandg)" filter="url(#b1)"/>
<path d="M1189.6,775.5 Q1200,777.5 1210,773 Q1222,767.5 1230.8,762.5 Q1232,768 1227,776 Q1217,790 1196,792.5 Q1190,792.5 1189.6,789 Z" fill="url(#bandg)" filter="url(#b1)"/>
<path d="M1190,789 Q1196,792.3 1205,790.3 Q1219,786.5 1228,773" fill="none" stroke="#333" stroke-width="2" opacity="0.45" filter="url(#b1)"/>
<circle cx="856" cy="771.5" r="1.5" fill="#fff" opacity="0.9" filter="url(#b1)"/>
<circle cx="1156" cy="785" r="1.6" fill="#fff" opacity="0.95" filter="url(#b1)"/>
<circle cx="1216.5" cy="774.3" r="1.2" fill="#fff" opacity="0.9" filter="url(#b1)"/>
</g>
<rect x="840.30" y="753.80" width="394.20" height="54.00" fill="none" stroke="#111" stroke-width="2.2" />
<text x="839.2" y="661.7" font-size="21.4" text-anchor="end" font-weight="normal" fill="#1c1c1c" textLength="89.6" lengthAdjust="spacingAndGlyphs" >kDa 260-</text>
<text x="839.2" y="692.3" font-size="21.4" text-anchor="end" font-weight="normal" fill="#1c1c1c" textLength="43.8" lengthAdjust="spacingAndGlyphs" >160-</text>
<text x="839.2" y="719" font-size="21.4" text-anchor="end" font-weight="normal" fill="#1c1c1c" textLength="43.8" lengthAdjust="spacingAndGlyphs" >110-</text>
<text x="839.2" y="745.4" font-size="21.4" text-anchor="end" font-weight="normal" fill="#1c1c1c" textLength="31.6" lengthAdjust="spacingAndGlyphs" >80-</text>
<text x="839.2" y="798.2" font-size="21.4" text-anchor="end" font-weight="normal" fill="#1c1c1c" textLength="31.6" lengthAdjust="spacingAndGlyphs" >50-</text>
<text x="1255.6" y="680.1" font-size="19.8" text-anchor="start" font-weight="bold" fill="#111" textLength="134.3" lengthAdjust="spacingAndGlyphs" >GLV-CP/RdRp</text>
<text x="1255.6" y="737.2" font-size="19.8" text-anchor="start" font-weight="bold" fill="#111" textLength="76" lengthAdjust="spacingAndGlyphs" >GLV-CP</text>
<text x="1255.6" y="793.7" font-size="19.8" text-anchor="start" font-weight="bold" fill="#111" textLength="53.5" lengthAdjust="spacingAndGlyphs" >αTUB</text>
<rect x="842.60" y="879.60" width="394.00" height="58.50" fill="#3f3f3f" stroke="none" stroke-width="1" />
<g clip-path="url(#cgel2)">
<rect x="846.00" y="884.00" width="387.00" height="50.00" fill="#454545" stroke="none" stroke-width="1" filter="url(#b3)"/>
<rect x="1017.6" y="912.4" width="33.4" height="6.5" rx="2" fill="#fff" opacity="0.62" filter="url(#b2)"/>
<rect x="1061.4" y="912.4" width="34.0" height="6.5" rx="2" fill="#fff" opacity="0.62" filter="url(#b2)"/>
<rect x="1149.6" y="912.3" width="32.8" height="7" rx="2" fill="#fff" opacity="0.72" filter="url(#b2)"/>
<rect x="1190.5" y="906" width="39.5" height="14" rx="5" fill="#fff" opacity="0.55" filter="url(#b3)"/>
<rect x="1191.5" y="906.8" width="37.5" height="12.4" rx="4" fill="#fff" opacity="1" filter="url(#b15)"/>
<rect x="1193" y="909" width="34" height="8" rx="3" fill="#fff" opacity="1" filter="url(#b1)"/>
<rect x="1192" y="905" width="37" height="32" fill="#fff" opacity="0.08" filter="url(#b3)"/>
<rect x="1098" y="914" width="6" height="4" fill="#fff" opacity="0.25" filter="url(#b15)"/>
</g>
<rect x="842.60" y="879.60" width="394.00" height="58.50" fill="none" stroke="#1a1a1a" stroke-width="1.5" />
<text x="830.8" y="927.2" font-size="21.4" text-anchor="end" font-weight="normal" fill="#1c1c1c" textLength="52.6" lengthAdjust="spacingAndGlyphs" >Kb 6-</text>
<text x="1255.8" y="916.5" font-size="19.8" text-anchor="start" font-weight="bold" fill="#111" textLength="122.8" lengthAdjust="spacingAndGlyphs" >GLV genome</text>
<rect x="842.00" y="979.70" width="393.70" height="62.50" fill="#e9e9e9" stroke="none" stroke-width="1" />
<g clip-path="url(#cb4)">
<path d="M1015.6,998 L1016.6,1007.5 Q1034,1010 1052,1006 L1053,998 L1053.2,1018.5 Q1034,1016.5 1018,1020.5 Q1015.8,1020 1015.6,1016 Z" fill="#000" opacity="0.4" filter="url(#b1)"/>
<path d="M1016,1007.5 Q1034,1010.5 1053,1006.5 L1053,1018.5 Q1034,1016.5 1018,1020.3 Q1016,1020 1016,1016 Z" fill="#000" opacity="0.82" filter="url(#b1)"/>
<path d="M1019,1012.2 Q1034,1014.5 1050,1011.2" fill="none" stroke="#fff" stroke-width="2" opacity="0.28" filter="url(#b1)"/>
<path d="M1058,995 L1059,1012 Q1064,1019 1078,1022 Q1090,1024.5 1097,1023" fill="none" stroke="#000" stroke-width="1.8" opacity="0.42" filter="url(#b1)"/>
<path d="M1060,1012.5 Q1070,1010 1085,1011 Q1094,1011.5 1097.3,1014 L1097.3,1023" fill="none" stroke="#000" stroke-width="1.8" opacity="0.25" filter="url(#b1)"/>
<path d="M1145.9,994 L1147,1004 Q1156,1000.5 1163,1002.5 L1165,1006.5 L1168,1002.5 Q1176,1001 1183.5,1004.5 L1184.3,1030 Q1183,1034 1166,1034 Q1150,1034.5 1148.5,1031 Z" fill="url(#l8g)" filter="url(#b1)"/>
<path d="M1146,994 L1147.2,1012" fill="none" stroke="#000" stroke-width="1.6" opacity="0.5" filter="url(#b1)"/>
<path d="M1185,988 L1187.5,1003.5 Q1203,1001 1215,999.5 Q1227,996 1231.5,981 L1234,981 Q1235,1000 1231,1011 Q1222,1027 1200,1029.5 Q1190,1029 1187,1020 Z" fill="url(#l9g)" filter="url(#b15)"/>
<path d="M1188,1004 Q1203,1001.5 1215,1000 Q1227,996.5 1231.8,981" fill="none" stroke="#000" stroke-width="4" opacity="0.75" filter="url(#b1)"/>
<path d="M1185.2,988 L1187.5,1016" fill="none" stroke="#000" stroke-width="1.6" opacity="0.38" filter="url(#b1)"/>
<rect x="1125" y="1012.3" width="14" height="1.4" fill="#000" opacity="0.1" filter="url(#b1)"/>
</g>
<rect x="842.00" y="979.70" width="393.70" height="62.50" fill="none" stroke="#2a2a2a" stroke-width="1.4" />
<rect x="842.00" y="1056.80" width="393.70" height="71.60" fill="#e8e8e8" stroke="none" stroke-width="1" />
<g clip-path="url(#cb5)">
<path d="M852.4,1099.6 L870,1101.6 L888.2,1102.6" fill="none" stroke="#000" stroke-width="1.6" stroke-linejoin="round" stroke-linecap="round" opacity="0.13" filter="url(#b1)"/>
<path d="M896.9,1103.6 L905,1104.4 L931.3,1105.2" fill="none" stroke="#000" stroke-width="2.4" stroke-linejoin="round" stroke-linecap="round" opacity="0.42" filter="url(#b1)"/>
<path d="M938.5,1105 L946,1105.8 L972.4,1106.6" fill="none" stroke="#000" stroke-width="2.4" stroke-linejoin="round" stroke-linecap="round" opacity="0.38" filter="url(#b1)"/>
<path d="M981,1107.4 L1011.7,1108.1" fill="none" stroke="#000" stroke-width="2.0" stroke-linejoin="round" stroke-linecap="round" opacity="0.17" filter="url(#b1)"/>
<path d="M1017.6,1101.5 L1019.5,1103.6 L1026,1104.2 L1050,1103.6 L1058,1102.6 L1060.4,1099" fill="none" stroke="#000" stroke-width="3.2" stroke-linejoin="round" stroke-linecap="round" opacity="0.8" filter="url(#b1)"/>
<path d="M1063.4,1101.5 L1065.5,1104 L1075,1104.8 L1085,1104.4 L1095,1105.2 L1101.5,1104.8 L1103.6,1102.5" fill="none" stroke="#000" stroke-width="3.2" stroke-linejoin="round" stroke-linecap="round" opacity="0.78" filter="url(#b1)"/>
<path d="M1109.3,1107.2 L1125,1108 L1140,1109.4 L1148.1,1109.9" fill="none" stroke="#000" stroke-width="2.2" stroke-linejoin="round" stroke-linecap="round" opacity="0.42" filter="url(#b1)"/>
<path d="M1149.6,1103.5 L1151.5,1107.6 L1158,1109.2 L1170,1108.6 L1185,1107.2 L1186.9,1106.8" fill="none" stroke="#000" stroke-width="3.8" stroke-linejoin="round" stroke-linecap="round" opacity="0.85" filter="url(#b1)"/>
<path d="M1190.6,1096 L1191.8,1104 L1194,1104.8 L1203,1102 L1214,1098 L1223,1092.5 L1229,1085 L1234.3,1073" fill="none" stroke="#000" stroke-width="3.4" stroke-linejoin="round" stroke-linecap="round" opacity="0.8" filter="url(#b1)"/>
<circle cx="843.5" cy="1088.5" r="1.3" fill="#000" opacity="0.8"/>
<circle cx="1021" cy="1078.5" r="0.8" fill="#000" opacity="0.35" filter="url(#b1)"/>
</g>
<rect x="842.00" y="1056.80" width="393.70" height="71.60" fill="none" stroke="#2a2a2a" stroke-width="1.4" />
<line x1="841.3" y1="1057.2" x2="1236.4" y2="1057.2" stroke="#222" stroke-width="2.2" />
<text x="833.5" y="1003.5" font-size="21.4" text-anchor="end" font-weight="normal" fill="#1c1c1c" textLength="89.8" lengthAdjust="spacingAndGlyphs" >kDa 110-</text>
<text x="833.5" y="1035" font-size="21.4" text-anchor="end" font-weight="normal" fill="#1c1c1c" textLength="31.6" lengthAdjust="spacingAndGlyphs" >80-</text>
<text x="833.5" y="1114.2" font-size="21.4" text-anchor="end" font-weight="normal" fill="#1c1c1c" textLength="31.6" lengthAdjust="spacingAndGlyphs" >50-</text>
<text x="1255.6" y="1013.5" font-size="19.8" text-anchor="start" font-weight="bold" fill="#111" textLength="76" lengthAdjust="spacingAndGlyphs" >GLV-CP</text>
<text x="1255.6" y="1102.8" font-size="19.8" text-anchor="start" font-weight="bold" fill="#111" textLength="53.5" lengthAdjust="spacingAndGlyphs" >αTUB</text>
<text x="7.5" y="47" font-size="32" text-anchor="start" font-weight="normal" fill="#000" textLength="20" lengthAdjust="spacingAndGlyphs" >A</text>
<text x="8.2" y="363.8" font-size="32" text-anchor="start" font-weight="normal" fill="#000" textLength="19" lengthAdjust="spacingAndGlyphs" >B</text>
<text x="7.2" y="829.4" font-size="32" text-anchor="start" font-weight="normal" fill="#000" textLength="20" lengthAdjust="spacingAndGlyphs" >C</text>
<text x="746" y="42.7" font-size="32" text-anchor="start" font-weight="normal" fill="#000" textLength="21" lengthAdjust="spacingAndGlyphs" >D</text>
<line x1="170.1" y1="19.75000000000001" x2="170.1" y2="288.6" stroke="#222" stroke-width="1.6" />
<line x1="162.1" y1="280.8" x2="570" y2="280.8" stroke="#222" stroke-width="1.6" />
<line x1="162.1" y1="280.8" x2="170.1" y2="280.8" stroke="#222" stroke-width="1.6" />
<text x="159.5" y="286.8" font-size="16.7" text-anchor="end" font-weight="normal" fill="#222" >0</text>
<line x1="162.1" y1="194.05" x2="170.1" y2="194.05" stroke="#222" stroke-width="1.6" />
<text x="159.5" y="200.05" font-size="16.7" text-anchor="end" font-weight="normal" fill="#222" >5</text>
<line x1="162.1" y1="107.30000000000001" x2="170.1" y2="107.30000000000001" stroke="#222" stroke-width="1.6" />
<text x="159.5" y="113.30000000000001" font-size="16.7" text-anchor="end" font-weight="normal" fill="#222" textLength="20" lengthAdjust="spacingAndGlyphs" >10</text>
<line x1="162.1" y1="20.55000000000001" x2="170.1" y2="20.55000000000001" stroke="#222" stroke-width="1.6" />
<text x="159.5" y="26.55000000000001" font-size="16.7" text-anchor="end" font-weight="normal" fill="#222" textLength="20" lengthAdjust="spacingAndGlyphs" >15</text>
<line x1="170.1" y1="280.8" x2="170.1" y2="288.6" stroke="#222" stroke-width="1.6" />
<text x="170.1" y="307.2" font-size="16.7" text-anchor="middle" font-weight="normal" fill="#222" >0</text>
<line x1="290.1" y1="280.8" x2="290.1" y2="288.6" stroke="#222" stroke-width="1.6" />
<text x="290.1" y="307.2" font-size="16.7" text-anchor="middle" font-weight="normal" fill="#222" textLength="20" lengthAdjust="spacingAndGlyphs" >24</text>
<line x1="410.1" y1="280.8" x2="410.1" y2="288.6" stroke="#222" stroke-width="1.6" />
<text x="410.1" y="307.2" font-size="16.7" text-anchor="middle" font-weight="normal" fill="#222" textLength="20" lengthAdjust="spacingAndGlyphs" >48</text>
<line x1="530.1" y1="280.8" x2="530.1" y2="288.6" stroke="#222" stroke-width="1.6" />
<text x="530.1" y="307.2" font-size="16.7" text-anchor="middle" font-weight="normal" fill="#222" textLength="20" lengthAdjust="spacingAndGlyphs" >72</text>
<text x="370" y="337.5" font-size="19" text-anchor="middle" font-weight="bold" fill="#111" textLength="116.5" lengthAdjust="spacingAndGlyphs" >Time (hours)</text>
<text transform="translate(129.5,139) rotate(-90)" font-size="19.5" font-weight="bold" text-anchor="middle" fill="#111" textLength="238.5" lengthAdjust="spacingAndGlyphs">Throphoites fold increase</text>
<polyline points="170.1,262.8 290.1,194.7 410.1,168.4 530.1,160.2" fill="none" stroke="#188218" stroke-width="2.4" stroke-linejoin="round"/>
<circle cx="170.1" cy="262.8" r="2.2" fill="#fff" stroke="#188218" stroke-width="1.2"/>
<line x1="290.1" y1="189.494" x2="290.1" y2="199.994" stroke="#188218" stroke-width="1.3" />
<line x1="286.1" y1="189.494" x2="294.1" y2="189.494" stroke="#188218" stroke-width="1.3" />
<line x1="286.1" y1="199.994" x2="294.1" y2="199.994" stroke="#188218" stroke-width="1.3" />
<circle cx="290.1" cy="194.7" r="2.2" fill="#fff" stroke="#188218" stroke-width="1.2"/>
<line x1="410.1" y1="162.622" x2="410.1" y2="174.122" stroke="#188218" stroke-width="1.3" />
<line x1="406.1" y1="162.622" x2="414.1" y2="162.622" stroke="#188218" stroke-width="1.3" />
<line x1="406.1" y1="174.122" x2="414.1" y2="174.122" stroke="#188218" stroke-width="1.3" />
<circle cx="410.1" cy="168.4" r="2.2" fill="#fff" stroke="#188218" stroke-width="1.2"/>
<line x1="530.1" y1="153.7175" x2="530.1" y2="166.7175" stroke="#188218" stroke-width="1.3" />
<line x1="526.1" y1="153.7175" x2="534.1" y2="153.7175" stroke="#188218" stroke-width="1.3" />
<line x1="526.1" y1="166.7175" x2="534.1" y2="166.7175" stroke="#188218" stroke-width="1.3" />
<circle cx="530.1" cy="160.2" r="2.2" fill="#fff" stroke="#188218" stroke-width="1.2"/>
<polyline points="170.1,262.8 290.1,181.6 410.1,134.9 530.1,121.4" fill="none" stroke="#9e0c14" stroke-width="2.4" stroke-linejoin="round"/>
<rect x="168.10" y="260.76" width="4.00" height="4.00" fill="#fff" stroke="#9e0c14" stroke-width="1.2" />
<line x1="290.1" y1="177.158" x2="290.1" y2="185.958" stroke="#9e0c14" stroke-width="1.3" />
<line x1="286.1" y1="177.158" x2="294.1" y2="177.158" stroke="#9e0c14" stroke-width="1.3" />
<line x1="286.1" y1="185.958" x2="294.1" y2="185.958" stroke="#9e0c14" stroke-width="1.3" />
<rect x="288.10" y="179.56" width="4.00" height="4.00" fill="#fff" stroke="#9e0c14" stroke-width="1.2" />
<line x1="410.1" y1="129.63649999999998" x2="410.1" y2="140.13649999999998" stroke="#9e0c14" stroke-width="1.3" />
<line x1="406.1" y1="129.63649999999998" x2="414.1" y2="129.63649999999998" stroke="#9e0c14" stroke-width="1.3" />
<line x1="406.1" y1="140.13649999999998" x2="414.1" y2="140.13649999999998" stroke="#9e0c14" stroke-width="1.3" />
<rect x="408.10" y="132.89" width="4.00" height="4.00" fill="#fff" stroke="#9e0c14" stroke-width="1.2" />
<line x1="530.1" y1="116.8535" x2="530.1" y2="125.8535" stroke="#9e0c14" stroke-width="1.3" />
<line x1="526.1" y1="116.8535" x2="534.1" y2="116.8535" stroke="#9e0c14" stroke-width="1.3" />
<line x1="526.1" y1="125.8535" x2="534.1" y2="125.8535" stroke="#9e0c14" stroke-width="1.3" />
<rect x="528.10" y="119.35" width="4.00" height="4.00" fill="#fff" stroke="#9e0c14" stroke-width="1.2" />
<polyline points="170.1,262.8 290.1,167.3 410.1,102.8 530.1,63.2" fill="none" stroke="#000" stroke-width="2.4" stroke-linejoin="round"/>
<rect x="168.10" y="260.76" width="4.00" height="4.00" fill="#000" stroke="none" stroke-width="1" />
<line x1="290.1" y1="161.73100000000002" x2="290.1" y2="172.931" stroke="#000" stroke-width="1.3" />
<line x1="286.1" y1="161.73100000000002" x2="294.1" y2="161.73100000000002" stroke="#000" stroke-width="1.3" />
<line x1="286.1" y1="172.931" x2="294.1" y2="172.931" stroke="#000" stroke-width="1.3" />
<rect x="288.10" y="165.33" width="4.00" height="4.00" fill="#000" stroke="none" stroke-width="1" />
<line x1="410.1" y1="89.78899999999999" x2="410.1" y2="115.78899999999999" stroke="#000" stroke-width="1.3" />
<line x1="406.1" y1="89.78899999999999" x2="414.1" y2="89.78899999999999" stroke="#000" stroke-width="1.3" />
<line x1="406.1" y1="115.78899999999999" x2="414.1" y2="115.78899999999999" stroke="#000" stroke-width="1.3" />
<rect x="408.10" y="100.79" width="4.00" height="4.00" fill="#000" stroke="none" stroke-width="1" />
<line x1="530.1" y1="51.480999999999995" x2="530.1" y2="74.981" stroke="#000" stroke-width="1.3" />
<line x1="526.1" y1="51.480999999999995" x2="534.1" y2="51.480999999999995" stroke="#000" stroke-width="1.3" />
<line x1="526.1" y1="74.981" x2="534.1" y2="74.981" stroke="#000" stroke-width="1.3" />
<rect x="528.10" y="61.23" width="4.00" height="4.00" fill="#000" stroke="none" stroke-width="1" />
<line x1="190" y1="32.5" x2="229" y2="32.5" stroke="#000" stroke-width="2.5" />
<rect x="206.50" y="30.30" width="4.50" height="3.50" fill="#000" stroke="none" stroke-width="1" />
<text x="243.7" y="41.2" font-size="20" text-anchor="start" font-weight="normal" fill="#1a1a1a" textLength="58.3" lengthAdjust="spacingAndGlyphs" >WBC6</text>
<line x1="190" y1="64.5" x2="229" y2="64.5" stroke="#188218" stroke-width="2.5" />
<circle cx="208.7" cy="64.5" r="2.2" fill="#fff" stroke="#188218" stroke-width="1.1"/>
<text x="243.7" y="71.4" font-size="20" text-anchor="start" font-weight="normal" fill="#1a1a1a" textLength="58.3" lengthAdjust="spacingAndGlyphs" >WBC6</text>
<text x="303" y="77.0" font-size="12.2" text-anchor="start" font-weight="normal" fill="#1a1a1a" textLength="17" lengthAdjust="spacingAndGlyphs" >HP</text>
<line x1="190" y1="94.5" x2="229" y2="94.5" stroke="#9e0c14" stroke-width="2.5" />
<rect x="206.50" y="92.50" width="4.20" height="4.00" fill="#fff" stroke="#9e0c14" stroke-width="1.1" />
<text x="243.7" y="100" font-size="20" text-anchor="start" font-weight="normal" fill="#1a1a1a" textLength="58.3" lengthAdjust="spacingAndGlyphs" >WBC6</text>
<text x="303" y="105.6" font-size="12.2" text-anchor="start" font-weight="normal" fill="#1a1a1a" textLength="23.2" lengthAdjust="spacingAndGlyphs" >CAT</text>
<line x1="174.8" y1="482.5" x2="174.8" y2="761.7" stroke="#333" stroke-width="1.3" />
<line x1="170.10000000000002" y1="482.5" x2="179.5" y2="482.5" stroke="#333" stroke-width="1.3" />
<line x1="167.8" y1="761.7" x2="525.7" y2="761.7" stroke="#333" stroke-width="1.3" />
<line x1="167.60000000000002" y1="761.7" x2="174.8" y2="761.7" stroke="#333" stroke-width="1.3" />
<text x="164.20000000000002" y="767.5" font-size="16.2" text-anchor="end" font-weight="normal" fill="#222" >0</text>
<line x1="167.60000000000002" y1="645.0" x2="174.8" y2="645.0" stroke="#333" stroke-width="1.3" />
<text x="164.20000000000002" y="650.8" font-size="16.2" text-anchor="end" font-weight="normal" fill="#222" textLength="19.4" lengthAdjust="spacingAndGlyphs" >25</text>
<line x1="167.60000000000002" y1="528.3000000000001" x2="174.8" y2="528.3000000000001" stroke="#333" stroke-width="1.3" />
<text x="164.20000000000002" y="534.1" font-size="16.2" text-anchor="end" font-weight="normal" fill="#222" textLength="19.4" lengthAdjust="spacingAndGlyphs" >50</text>
<line x1="174.8" y1="390.8" x2="174.8" y2="464.3" stroke="#333" stroke-width="1.3" />
<line x1="170.10000000000002" y1="464.3" x2="179.5" y2="464.3" stroke="#333" stroke-width="1.3" />
<line x1="167.60000000000002" y1="390.8" x2="174.8" y2="390.8" stroke="#333" stroke-width="1.3" />
<text x="164.20000000000002" y="396.6" font-size="16.2" text-anchor="end" font-weight="normal" fill="#222" textLength="29" lengthAdjust="spacingAndGlyphs" >100</text>
<line x1="167.60000000000002" y1="437" x2="174.8" y2="437" stroke="#333" stroke-width="1.3" />
<text x="164.20000000000002" y="442.8" font-size="16.2" text-anchor="end" font-weight="normal" fill="#222" textLength="19.4" lengthAdjust="spacingAndGlyphs" >75</text>
<text x="218" y="784.4" font-size="16.2" text-anchor="middle" font-weight="normal" fill="#222" >0</text>
<text x="305.7" y="784.4" font-size="16.2" text-anchor="middle" font-weight="normal" fill="#222" textLength="19.4" lengthAdjust="spacingAndGlyphs" >24</text>
<text x="393.4" y="784.4" font-size="16.2" text-anchor="middle" font-weight="normal" fill="#222" textLength="19.4" lengthAdjust="spacingAndGlyphs" >48</text>
<text x="481.4" y="784.4" font-size="16.2" text-anchor="middle" font-weight="normal" fill="#222" textLength="19.4" lengthAdjust="spacingAndGlyphs" >72</text>
<text x="350" y="806.8" font-size="17.6" text-anchor="middle" font-weight="bold" fill="#111" textLength="106.5" lengthAdjust="spacingAndGlyphs" >Time (hours)</text>
<text transform="translate(125.3,574) rotate(-90)" font-size="17.8" font-weight="bold" text-anchor="middle" fill="#111" textLength="318.5" lengthAdjust="spacingAndGlyphs">Trypan blue positive trophozoites (%)</text>
<line x1="306.4" y1="716.3" x2="306.4" y2="740.6" stroke="#222" stroke-width="1.2" />
<line x1="300.59999999999997" y1="716.3" x2="312.2" y2="716.3" stroke="#222" stroke-width="1.2" />
<rect x="295.70" y="740.60" width="21.40" height="21.10" fill="#007a00" stroke="#222" stroke-width="1.2" />
<line x1="331.75" y1="745.7" x2="331.75" y2="752.6" stroke="#222" stroke-width="1.2" />
<line x1="325.95" y1="745.7" x2="337.55" y2="745.7" stroke="#222" stroke-width="1.2" />
<rect x="320.90" y="752.60" width="21.70" height="9.10" fill="#9c0000" stroke="#222" stroke-width="1.2" />
<line x1="368.1" y1="738" x2="368.1" y2="744.6" stroke="#222" stroke-width="1.2" />
<line x1="362.3" y1="738" x2="373.90000000000003" y2="738" stroke="#222" stroke-width="1.2" />
<rect x="357.10" y="744.60" width="22.00" height="17.10" fill="#fff" stroke="#222" stroke-width="1.2" />
<line x1="393.85" y1="628.3" x2="393.85" y2="662.6" stroke="#222" stroke-width="1.2" />
<line x1="388.05" y1="628.3" x2="399.65000000000003" y2="628.3" stroke="#222" stroke-width="1.2" />
<rect x="383.40" y="662.60" width="20.90" height="99.10" fill="#007a00" stroke="#222" stroke-width="1.2" />
<line x1="419.6" y1="678.6" x2="419.6" y2="684.9" stroke="#222" stroke-width="1.2" />
<line x1="413.8" y1="678.6" x2="425.40000000000003" y2="678.6" stroke="#222" stroke-width="1.2" />
<rect x="408.90" y="684.90" width="21.40" height="76.80" fill="#9c0000" stroke="#222" stroke-width="1.2" />
<line x1="455.9" y1="720.9" x2="455.9" y2="722.3" stroke="#222" stroke-width="1.2" />
<line x1="450.09999999999997" y1="720.9" x2="461.7" y2="720.9" stroke="#222" stroke-width="1.2" />
<rect x="444.90" y="722.30" width="22.00" height="39.40" fill="#fff" stroke="#222" stroke-width="1.2" />
<line x1="481.70000000000005" y1="523.4" x2="481.70000000000005" y2="542.3" stroke="#222" stroke-width="1.2" />
<line x1="475.90000000000003" y1="523.4" x2="487.50000000000006" y2="523.4" stroke="#222" stroke-width="1.2" />
<rect x="471.10" y="542.30" width="21.20" height="219.40" fill="#007a00" stroke="#222" stroke-width="1.2" />
<line x1="507.3" y1="668" x2="507.3" y2="675.4" stroke="#222" stroke-width="1.2" />
<line x1="501.5" y1="668" x2="513.1" y2="668" stroke="#222" stroke-width="1.2" />
<rect x="496.90" y="675.40" width="20.80" height="86.30" fill="#9c0000" stroke="#222" stroke-width="1.2" />
<line x1="358.7" y1="592.0" x2="429.3" y2="592.0" stroke="#444" stroke-width="1.7" />
<path d="M379.65,581.70 L379.65,577.80 M379.65,581.70 L383.36,580.49 M379.65,581.70 L381.94,584.86 M379.65,581.70 L377.36,584.86 M379.65,581.70 L375.94,580.49 " stroke="#111" stroke-width="1.3" fill="none"/>
<path d="M388.15,581.70 L388.15,577.80 M388.15,581.70 L391.86,580.49 M388.15,581.70 L390.44,584.86 M388.15,581.70 L385.86,584.86 M388.15,581.70 L384.44,580.49 " stroke="#111" stroke-width="1.3" fill="none"/>
<path d="M396.65,581.70 L396.65,577.80 M396.65,581.70 L400.36,580.49 M396.65,581.70 L398.94,584.86 M396.65,581.70 L394.36,584.86 M396.65,581.70 L392.94,580.49 " stroke="#111" stroke-width="1.3" fill="none"/>
<path d="M405.15,581.70 L405.15,577.80 M405.15,581.70 L408.86,580.49 M405.15,581.70 L407.44,584.86 M405.15,581.70 L402.86,584.86 M405.15,581.70 L401.44,580.49 " stroke="#111" stroke-width="1.3" fill="none"/>
<line x1="358.7" y1="616.9" x2="398.8" y2="616.9" stroke="#444" stroke-width="1.3" />
<path d="M365.05,608.80 L365.05,604.90 M365.05,608.80 L368.76,607.59 M365.05,608.80 L367.34,611.96 M365.05,608.80 L362.76,611.96 M365.05,608.80 L361.34,607.59 " stroke="#111" stroke-width="1.3" fill="none"/>
<path d="M373.55,608.80 L373.55,604.90 M373.55,608.80 L377.26,607.59 M373.55,608.80 L375.84,611.96 M373.55,608.80 L371.26,611.96 M373.55,608.80 L369.84,607.59 " stroke="#111" stroke-width="1.3" fill="none"/>
<path d="M382.05,608.80 L382.05,604.90 M382.05,608.80 L385.76,607.59 M382.05,608.80 L384.34,611.96 M382.05,608.80 L379.76,611.96 M382.05,608.80 L378.34,607.59 " stroke="#111" stroke-width="1.3" fill="none"/>
<path d="M390.55,608.80 L390.55,604.90 M390.55,608.80 L394.26,607.59 M390.55,608.80 L392.84,611.96 M390.55,608.80 L388.26,611.96 M390.55,608.80 L386.84,607.59 " stroke="#111" stroke-width="1.3" fill="none"/>
<line x1="443.5" y1="456.4" x2="522" y2="456.4" stroke="#444" stroke-width="1.3" />
<path d="M478.20,444.10 L478.20,440.20 M478.20,444.10 L481.91,442.89 M478.20,444.10 L480.49,447.26 M478.20,444.10 L475.91,447.26 M478.20,444.10 L474.49,442.89 " stroke="#111" stroke-width="1.3" fill="none"/>
<path d="M486.70,444.10 L486.70,440.20 M486.70,444.10 L490.41,442.89 M486.70,444.10 L488.99,447.26 M486.70,444.10 L484.41,447.26 M486.70,444.10 L482.99,442.89 " stroke="#111" stroke-width="1.3" fill="none"/>
<line x1="443.5" y1="489.6" x2="481.7" y2="489.6" stroke="#444" stroke-width="1.3" />
<path d="M450.05,480.30 L450.05,476.40 M450.05,480.30 L453.76,479.09 M450.05,480.30 L452.34,483.46 M450.05,480.30 L447.76,483.46 M450.05,480.30 L446.34,479.09 " stroke="#111" stroke-width="1.3" fill="none"/>
<path d="M458.55,480.30 L458.55,476.40 M458.55,480.30 L462.26,479.09 M458.55,480.30 L460.84,483.46 M458.55,480.30 L456.26,483.46 M458.55,480.30 L454.84,479.09 " stroke="#111" stroke-width="1.3" fill="none"/>
<path d="M467.05,480.30 L467.05,476.40 M467.05,480.30 L470.76,479.09 M467.05,480.30 L469.34,483.46 M467.05,480.30 L464.76,483.46 M467.05,480.30 L463.34,479.09 " stroke="#111" stroke-width="1.3" fill="none"/>
<path d="M475.55,480.30 L475.55,476.40 M475.55,480.30 L479.26,479.09 M475.55,480.30 L477.84,483.46 M475.55,480.30 L473.26,483.46 M475.55,480.30 L471.84,479.09 " stroke="#111" stroke-width="1.3" fill="none"/>
<line x1="471.9" y1="512.8" x2="520.7" y2="512.8" stroke="#444" stroke-width="1.7" />
<path d="M482.85,504.90 L482.85,501.00 M482.85,504.90 L486.56,503.69 M482.85,504.90 L485.14,508.06 M482.85,504.90 L480.56,508.06 M482.85,504.90 L479.14,503.69 " stroke="#111" stroke-width="1.3" fill="none"/>
<path d="M491.35,504.90 L491.35,501.00 M491.35,504.90 L495.06,503.69 M491.35,504.90 L493.64,508.06 M491.35,504.90 L489.06,508.06 M491.35,504.90 L487.64,503.69 " stroke="#111" stroke-width="1.3" fill="none"/>
<path d="M499.85,504.90 L499.85,501.00 M499.85,504.90 L503.56,503.69 M499.85,504.90 L502.14,508.06 M499.85,504.90 L497.56,508.06 M499.85,504.90 L496.14,503.69 " stroke="#111" stroke-width="1.3" fill="none"/>
<path d="M508.35,504.90 L508.35,501.00 M508.35,504.90 L512.06,503.69 M508.35,504.90 L510.64,508.06 M508.35,504.90 L506.06,508.06 M508.35,504.90 L504.64,503.69 " stroke="#111" stroke-width="1.3" fill="none"/>
<rect x="203.30" y="421.50" width="26.30" height="10.00" fill="#fff" stroke="#222" stroke-width="1.1" />
<text x="252" y="434.5" font-size="20" text-anchor="start" font-weight="normal" fill="#1a1a1a" textLength="58" lengthAdjust="spacingAndGlyphs" >WBC6</text>
<rect x="203.30" y="450.30" width="26.30" height="13.00" fill="#007a00" stroke="#222" stroke-width="1.1" />
<text x="252" y="463.5" font-size="20" text-anchor="start" font-weight="normal" fill="#1a1a1a" textLength="58" lengthAdjust="spacingAndGlyphs" >WBC6</text>
<text x="311" y="469.0" font-size="12.2" text-anchor="start" font-weight="normal" fill="#1a1a1a" textLength="17" lengthAdjust="spacingAndGlyphs" >HP</text>
<rect x="203.30" y="478.00" width="26.30" height="13.00" fill="#9c0000" stroke="#222" stroke-width="1.1" />
<text x="252" y="491.5" font-size="20" text-anchor="start" font-weight="normal" fill="#1a1a1a" textLength="58" lengthAdjust="spacingAndGlyphs" >WBC6</text>
<text x="311" y="497.0" font-size="12.2" text-anchor="start" font-weight="normal" fill="#1a1a1a" textLength="23.2" lengthAdjust="spacingAndGlyphs" >CAT</text>
<line x1="170.6" y1="870" x2="170.6" y2="1145.4" stroke="#222" stroke-width="1.1" />
<line x1="166.6" y1="1145.4" x2="624" y2="1145.4" stroke="#222" stroke-width="1.1" />
<line x1="166.1" y1="870" x2="170.6" y2="870" stroke="#222" stroke-width="1.1" />
<text x="164.1" y="874.8" font-size="13.2" text-anchor="end" font-weight="normal" fill="#222" >100</text>
<line x1="166.1" y1="1007.9" x2="170.6" y2="1007.9" stroke="#222" stroke-width="1.1" />
<text x="164.1" y="1012.6999999999999" font-size="13.2" text-anchor="end" font-weight="normal" fill="#222" >50</text>
<line x1="166.1" y1="1145.4" x2="170.6" y2="1145.4" stroke="#222" stroke-width="1.1" />
<text x="164.1" y="1150.2" font-size="13.2" text-anchor="end" font-weight="normal" fill="#222" >0</text>
<text x="231.6" y="1161.7" font-size="10.9" text-anchor="middle" font-weight="normal" fill="#222" textLength="12.6" lengthAdjust="spacingAndGlyphs" >T0</text>
<text x="340.3" y="1161.7" font-size="10.9" text-anchor="middle" font-weight="normal" fill="#222" textLength="14.2" lengthAdjust="spacingAndGlyphs" >24</text>
<text x="450" y="1161.7" font-size="10.9" text-anchor="middle" font-weight="normal" fill="#222" textLength="14.2" lengthAdjust="spacingAndGlyphs" >48</text>
<text x="563.3" y="1161.7" font-size="10.9" text-anchor="middle" font-weight="normal" fill="#222" textLength="14.2" lengthAdjust="spacingAndGlyphs" >72</text>
<text x="397.5" y="1193.2" font-size="16.5" text-anchor="middle" font-weight="bold" fill="#111" textLength="100.5" lengthAdjust="spacingAndGlyphs" >Time (hours)</text>
<text transform="translate(133.8,999.5) rotate(-90)" font-size="16.3" font-weight="bold" text-anchor="middle" fill="#111" textLength="222.5" lengthAdjust="spacingAndGlyphs">% anti GLV stained parasites</text>
<rect x="188.50" y="1088.50" width="37.00" height="56.90" fill="#007a00" stroke="#333" stroke-width="1.0" />
<rect x="188.50" y="1066.00" width="37.00" height="22.50" fill="#9ffa9f" stroke="#333" stroke-width="1.0" />
<rect x="188.50" y="1024.00" width="37.00" height="42.00" fill="#e0ffe0" stroke="#333" stroke-width="1.0" />
<line x1="207.0" y1="1080" x2="207.0" y2="1088.5" stroke="#333" stroke-width="1.0" />
<line x1="198.0" y1="1080" x2="216.0" y2="1080" stroke="#333" stroke-width="1.0" />
<line x1="207.0" y1="1055.5" x2="207.0" y2="1066" stroke="#333" stroke-width="1.0" />
<line x1="198.0" y1="1055.5" x2="216.0" y2="1055.5" stroke="#333" stroke-width="1.0" />
<line x1="207.0" y1="1017.5" x2="207.0" y2="1024" stroke="#333" stroke-width="1.0" />
<line x1="198.0" y1="1017.5" x2="216.0" y2="1017.5" stroke="#333" stroke-width="1.0" />
<rect x="243.50" y="1133.50" width="36.50" height="11.90" fill="#9c0000" stroke="#333" stroke-width="1.0" />
<rect x="243.50" y="1119.00" width="36.50" height="14.50" fill="#ff8282" stroke="#333" stroke-width="1.0" />
<rect x="243.50" y="1081.50" width="36.50" height="37.50" fill="#ffe0e0" stroke="#333" stroke-width="1.0" />
<line x1="261.75" y1="1130" x2="261.75" y2="1133.5" stroke="#333" stroke-width="1.0" />
<line x1="252.75" y1="1130" x2="270.75" y2="1130" stroke="#333" stroke-width="1.0" />
<line x1="261.75" y1="1078" x2="261.75" y2="1081.5" stroke="#333" stroke-width="1.0" />
<line x1="252.75" y1="1078" x2="270.75" y2="1078" stroke="#333" stroke-width="1.0" />
<rect x="297.50" y="1141.00" width="36.50" height="4.40" fill="#007a00" stroke="#333" stroke-width="1.0" />
<rect x="297.50" y="1098.50" width="36.50" height="42.50" fill="#9ffa9f" stroke="#333" stroke-width="1.0" />
<rect x="297.50" y="1067.00" width="36.50" height="31.50" fill="#e0ffe0" stroke="#333" stroke-width="1.0" />
<line x1="315.75" y1="1139" x2="315.75" y2="1141" stroke="#333" stroke-width="1.0" />
<line x1="306.75" y1="1139" x2="324.75" y2="1139" stroke="#333" stroke-width="1.0" />
<line x1="315.75" y1="1097" x2="315.75" y2="1098.5" stroke="#333" stroke-width="1.0" />
<line x1="306.75" y1="1097" x2="324.75" y2="1097" stroke="#333" stroke-width="1.0" />
<line x1="315.75" y1="1054.5" x2="315.75" y2="1067" stroke="#333" stroke-width="1.0" />
<line x1="306.75" y1="1054.5" x2="324.75" y2="1054.5" stroke="#333" stroke-width="1.0" />
<rect x="352.00" y="1139.50" width="37.00" height="5.90" fill="#9c0000" stroke="#333" stroke-width="1.0" />
<rect x="352.00" y="1129.50" width="37.00" height="10.00" fill="#ff8282" stroke="#333" stroke-width="1.0" />
<rect x="352.00" y="973.50" width="37.00" height="156.00" fill="#ffe0e0" stroke="#333" stroke-width="1.0" />
<line x1="370.5" y1="1138" x2="370.5" y2="1139.5" stroke="#333" stroke-width="1.0" />
<line x1="361.5" y1="1138" x2="379.5" y2="1138" stroke="#333" stroke-width="1.0" />
<line x1="370.5" y1="1125" x2="370.5" y2="1129.5" stroke="#333" stroke-width="1.0" />
<line x1="361.5" y1="1125" x2="379.5" y2="1125" stroke="#333" stroke-width="1.0" />
<line x1="370.5" y1="967" x2="370.5" y2="973.5" stroke="#333" stroke-width="1.0" />
<line x1="361.5" y1="967" x2="379.5" y2="967" stroke="#333" stroke-width="1.0" />
<rect x="406.50" y="1103.00" width="36.50" height="42.40" fill="#007a00" stroke="#333" stroke-width="1.0" />
<rect x="406.50" y="1057.50" width="36.50" height="45.50" fill="#9ffa9f" stroke="#333" stroke-width="1.0" />
<rect x="406.50" y="1024.50" width="36.50" height="33.00" fill="#e0ffe0" stroke="#333" stroke-width="1.0" />
<line x1="424.75" y1="1100.5" x2="424.75" y2="1103" stroke="#333" stroke-width="1.0" />
<line x1="415.75" y1="1100.5" x2="433.75" y2="1100.5" stroke="#333" stroke-width="1.0" />
<line x1="424.75" y1="1055.5" x2="424.75" y2="1057.5" stroke="#333" stroke-width="1.0" />
<line x1="415.75" y1="1055.5" x2="433.75" y2="1055.5" stroke="#333" stroke-width="1.0" />
<line x1="424.75" y1="1020.5" x2="424.75" y2="1024.5" stroke="#333" stroke-width="1.0" />
<line x1="415.75" y1="1020.5" x2="433.75" y2="1020.5" stroke="#333" stroke-width="1.0" />
<rect x="461.00" y="1122.50" width="36.00" height="22.90" fill="#9c0000" stroke="#333" stroke-width="1.0" />
<rect x="461.00" y="1107.00" width="36.00" height="15.50" fill="#ff8282" stroke="#333" stroke-width="1.0" />
<rect x="461.00" y="968.50" width="36.00" height="138.50" fill="#ffe0e0" stroke="#333" stroke-width="1.0" />
<line x1="479.0" y1="1115.5" x2="479.0" y2="1122.5" stroke="#333" stroke-width="1.0" />
<line x1="470.0" y1="1115.5" x2="488.0" y2="1115.5" stroke="#333" stroke-width="1.0" />
<line x1="479.0" y1="1103.5" x2="479.0" y2="1107" stroke="#333" stroke-width="1.0" />
<line x1="470.0" y1="1103.5" x2="488.0" y2="1103.5" stroke="#333" stroke-width="1.0" />
<line x1="479.0" y1="965.5" x2="479.0" y2="968.5" stroke="#333" stroke-width="1.0" />
<line x1="470.0" y1="965.5" x2="488.0" y2="965.5" stroke="#333" stroke-width="1.0" />
<rect x="515.00" y="1123.50" width="37.00" height="21.90" fill="#007a00" stroke="#333" stroke-width="1.0" />
<rect x="515.00" y="988.00" width="37.00" height="135.50" fill="#9ffa9f" stroke="#333" stroke-width="1.0" />
<rect x="515.00" y="975.00" width="37.00" height="13.00" fill="#e0ffe0" stroke="#333" stroke-width="1.0" />
<line x1="533.5" y1="1112.5" x2="533.5" y2="1123.5" stroke="#333" stroke-width="1.0" />
<line x1="524.5" y1="1112.5" x2="542.5" y2="1112.5" stroke="#333" stroke-width="1.0" />
<line x1="533.5" y1="977.5" x2="533.5" y2="988" stroke="#333" stroke-width="1.0" />
<line x1="524.5" y1="977.5" x2="542.5" y2="977.5" stroke="#333" stroke-width="1.0" />
<line x1="533.5" y1="971.5" x2="533.5" y2="975" stroke="#333" stroke-width="1.0" />
<line x1="524.5" y1="971.5" x2="542.5" y2="971.5" stroke="#333" stroke-width="1.0" />
<rect x="570.00" y="1123.50" width="36.50" height="21.90" fill="#9c0000" stroke="#333" stroke-width="1.0" />
<rect x="570.00" y="1083.00" width="36.50" height="40.50" fill="#ff8282" stroke="#333" stroke-width="1.0" />
<rect x="570.00" y="1037.50" width="36.50" height="45.50" fill="#ffe0e0" stroke="#333" stroke-width="1.0" />
<line x1="588.25" y1="1121" x2="588.25" y2="1123.5" stroke="#333" stroke-width="1.0" />
<line x1="579.25" y1="1121" x2="597.25" y2="1121" stroke="#333" stroke-width="1.0" />
<line x1="588.25" y1="1070" x2="588.25" y2="1083" stroke="#333" stroke-width="1.0" />
<line x1="579.25" y1="1070" x2="597.25" y2="1070" stroke="#333" stroke-width="1.0" />
<line x1="588.25" y1="1033.5" x2="588.25" y2="1037.5" stroke="#333" stroke-width="1.0" />
<line x1="579.25" y1="1033.5" x2="597.25" y2="1033.5" stroke="#333" stroke-width="1.0" />
<rect x="186.30" y="871.70" width="18.80" height="15.40" fill="#007a00" stroke="#333" stroke-width="1.0" />
<text x="209" y="884.0" font-size="16" fill="#2a2a2a" letter-spacing="1.1">WB<tspan font-size="10.6" dy="3" letter-spacing="0.5">HP</tspan><tspan dy="-3" letter-spacing="0.4">_HI</tspan></text>
<rect x="186.30" y="888.20" width="18.80" height="15.40" fill="#9ffa9f" stroke="#555" stroke-width="1.0" />
<text x="209" y="900.5" font-size="16" fill="#2a2a2a" letter-spacing="1.1">WB<tspan font-size="10.6" dy="3" letter-spacing="0.5">HP</tspan><tspan dy="-3" letter-spacing="0.4">_HIE</tspan></text>
<rect x="186.30" y="904.70" width="18.80" height="15.40" fill="#e0ffe0" stroke="#555" stroke-width="1.0" />
<text x="209" y="917.0" font-size="16" fill="#2a2a2a" letter-spacing="1.1">WB<tspan font-size="10.6" dy="3" letter-spacing="0.5">HP</tspan><tspan dy="-3" letter-spacing="0.4">_LI</tspan></text>
<rect x="186.30" y="921.20" width="18.80" height="15.40" fill="#9c0000" stroke="#333" stroke-width="1.0" />
<text x="209" y="933.5" font-size="16" fill="#2a2a2a" letter-spacing="1.1">WB<tspan font-size="10.6" dy="3" letter-spacing="0.5">CAT</tspan><tspan dy="-3" letter-spacing="0.4">_HI</tspan></text>
<rect x="186.30" y="937.70" width="18.80" height="15.40" fill="#ff8282" stroke="#555" stroke-width="1.0" />
<text x="209" y="950.0" font-size="16" fill="#2a2a2a" letter-spacing="1.1">WB<tspan font-size="10.6" dy="3" letter-spacing="0.5">CAT</tspan><tspan dy="-3" letter-spacing="0.4">_HIE</tspan></text>
<rect x="186.30" y="954.20" width="18.80" height="15.40" fill="#ffe0e0" stroke="#555" stroke-width="1.0" />
<text x="209" y="966.5" font-size="16" fill="#2a2a2a" letter-spacing="1.1">WB<tspan font-size="10.6" dy="3" letter-spacing="0.5">CAT</tspan><tspan dy="-3" letter-spacing="0.4">_LI</tspan></text>
</svg>
</body></html>
